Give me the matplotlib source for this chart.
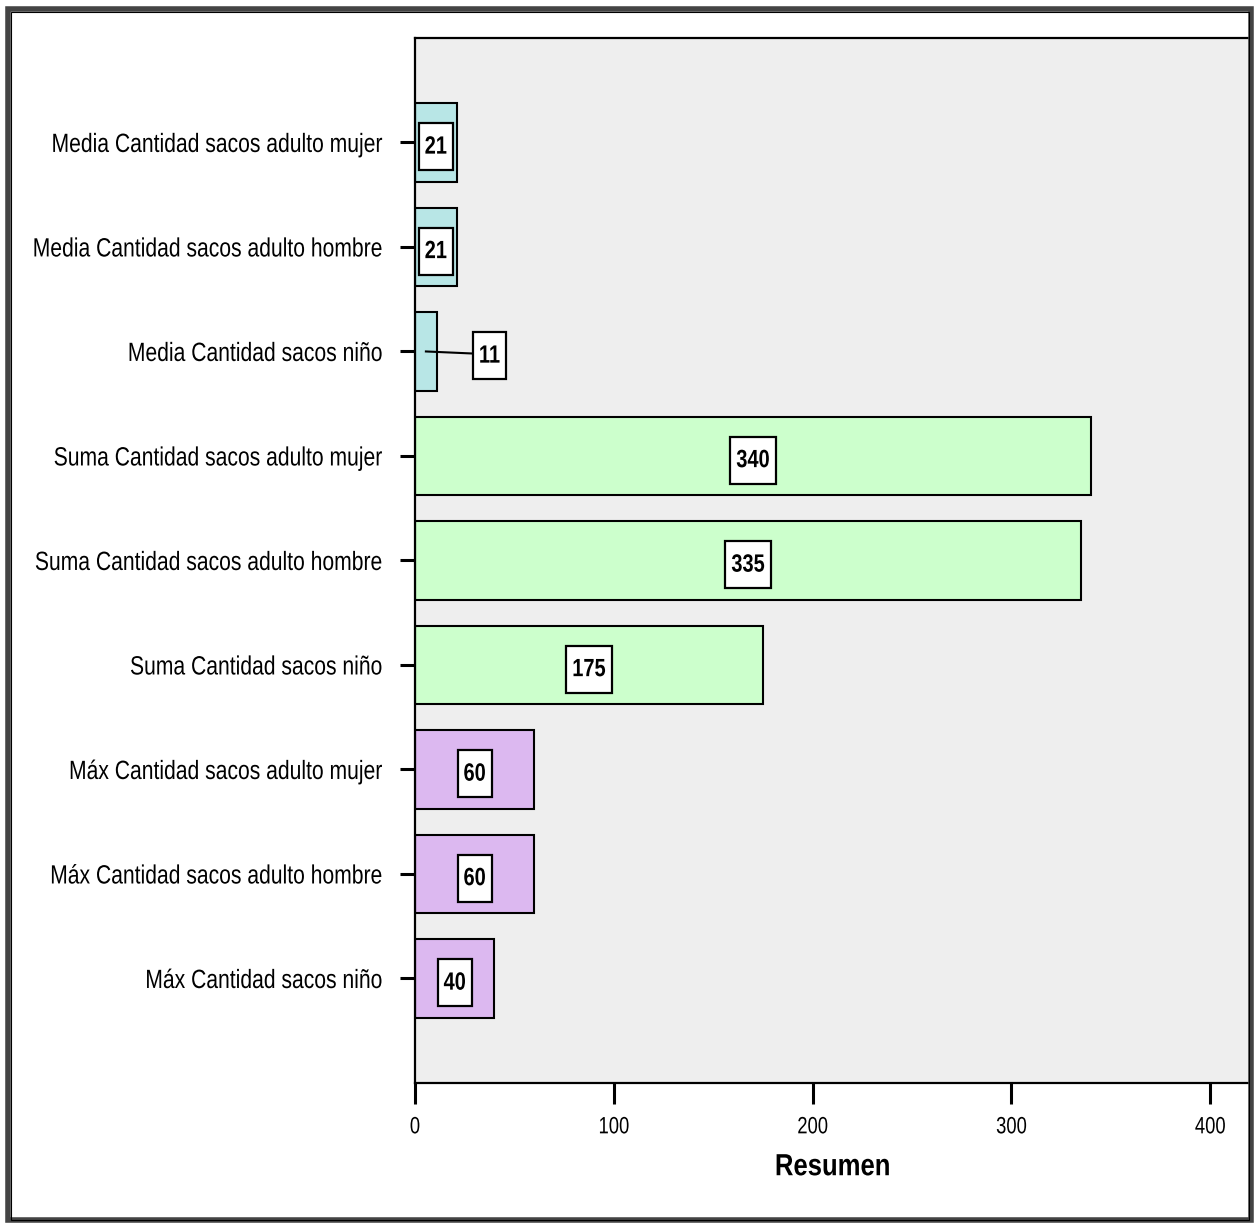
import numpy as np
import matplotlib.pyplot as plt
from matplotlib.patches import Rectangle
from matplotlib.patheffects import AbstractPathEffect
from matplotlib.transforms import Affine2D

plt.rcParams['font.family'] = ['Liberation Sans', 'DejaVu Sans']

# Summary statistics of sack counts
categories = [
    'Media Cantidad sacos adulto mujer',
    'Media Cantidad sacos adulto hombre',
    'Media Cantidad sacos niño',
    'Suma Cantidad sacos adulto mujer',
    'Suma Cantidad sacos adulto hombre',
    'Suma Cantidad sacos niño',
    'Máx Cantidad sacos adulto mujer',
    'Máx Cantidad sacos adulto hombre',
    'Máx Cantidad sacos niño',
]
values = [21, 21, 11, 340, 335, 175, 60, 60, 40]
groups = ['media', 'media', 'media', 'suma', 'suma', 'suma', 'max', 'max', 'max']
group_colors = {'media': '#b8e6e6', 'suma': '#ccffcc', 'max': '#dcb8f0'}
x_ticks = [0, 100, 200, 300, 400]


class Condensed(AbstractPathEffect):
    """Squeeze a drawn path horizontally (and optionally stretch it vertically)."""

    def __init__(self, sx=0.8, anchor='center', sy=1.0):
        super().__init__()
        self.sx = sx
        self.sy = sy
        self.anchor = anchor

    def draw_path(self, renderer, gc, tpath, affine, rgbFace=None):
        ext = tpath.get_extents(affine)
        x0 = ext.x1 if self.anchor == 'right' else (ext.x0 + ext.x1) / 2
        y0 = (ext.y0 + ext.y1) / 2
        squeeze = (Affine2D().translate(-x0, -y0)
                   .scale(self.sx, self.sy).translate(x0, y0))
        renderer.draw_path(gc, tpath, affine + squeeze, rgbFace)


fig = plt.figure(figsize=(12.59, 12.24), dpi=100)
ax = fig.add_axes([0.3296, 0.1152, 0.6633, 0.8538])
ax.set_facecolor('#eeeeee')

y = np.arange(len(categories))
colors = [group_colors[g] for g in groups]
ax.barh(y, values, height=0.75, color=colors, edgecolor='black', linewidth=1.5)

ax.set_ylim(len(categories), -1)
ax.set_xlim(0, 420)
ax.set_yticks(y)
ax.set_yticklabels(categories, fontsize=19)
ax.set_xticks(x_ticks)
ax.set_xticklabels([str(t) for t in x_ticks], fontsize=17)
ax.tick_params(axis='y', length=11, width=2.2, pad=12)
ax.tick_params(axis='x', length=15, width=2.2, pad=9)
xl = ax.set_xlabel('Resumen', fontsize=22, fontweight='bold', labelpad=10)
xl.set_path_effects([Condensed(0.84)])
for lab in ax.get_yticklabels():
    lab.set_path_effects([Condensed(0.8, 'right')])
for lab in ax.get_xticklabels():
    lab.set_path_effects([Condensed(0.78)])
for s in ax.spines.values():
    s.set_linewidth(1.6)

# value boxes; small bars get the label pulled out with a leader line
label_offset = 32
for i, v in enumerate(values):
    lx = v / 2
    if v < 15:
        lx = v / 2 + label_offset
        ax.plot([v / 2, lx - 8], [i, i + 0.02], color='black', lw=1.5)
    t = ax.text(lx, i + 0.04, str(v), ha='center', va='center', fontsize=18,
                fontweight='bold',
                bbox=dict(boxstyle='square,pad=0.3', fc='white', ec='black', lw=1.6))
    t.set_path_effects([Condensed(0.8)])
    t.get_bbox_patch().set_path_effects([Condensed(0.8, sy=1.2)])

# outer frame around the whole figure
fig.patches.append(Rectangle((0.006, 0.003), 0.988, 0.99, transform=fig.transFigure,
                             fill=False, ec='#444444', lw=4))
fig.patches.append(Rectangle((0.0085, 0.003), 0.9835, 0.987, transform=fig.transFigure,
                             fill=False, ec='black', lw=0.8))

fig.savefig('out.png', dpi=100)
